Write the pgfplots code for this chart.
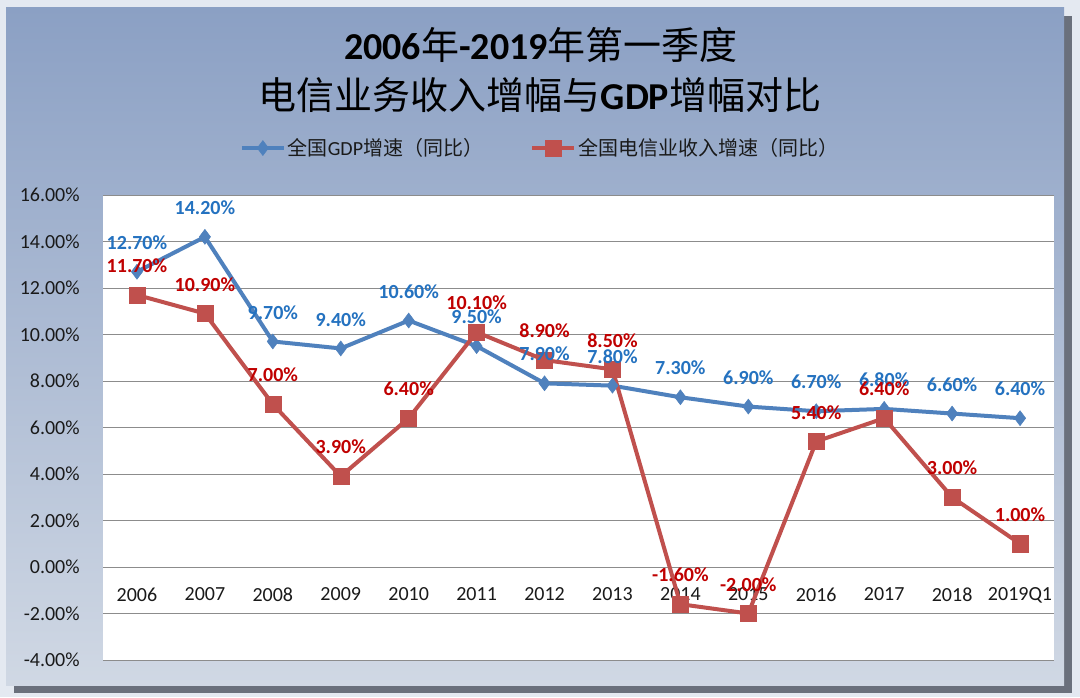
\documentclass[border=0pt]{standalone}
\usepackage{pgfplots}
\pgfplotsset{compat=1.18}
\usepackage{pgfplotstable}
\usepackage{fontspec}
\setmainfont{Carlito}
\newfontfamily\cjk{Noto Sans CJK SC}
\definecolor{gdpline}{HTML}{4F81BD}
\definecolor{telline}{HTML}{C0504D}
\definecolor{gdplab}{HTML}{2472C0}
\definecolor{tellab}{HTML}{C00000}
\definecolor{gridc}{HTML}{8C8C8C}
\definecolor{bgtop}{HTML}{8BA0C4}
\definecolor{bgbot}{HTML}{D0D8E4}
\definecolor{bgouter}{HTML}{E4E9F1}
\definecolor{shadowc}{HTML}{6A707C}
\definecolor{txt}{HTML}{1A1A1A}

\pgfplotstableread{
x gdp tel
0 12.7 11.7
1 14.2 10.9
2 9.7 7.0
3 9.4 3.9
4 10.6 6.4
5 9.5 10.1
6 7.9 8.9
7 7.8 8.5
8 7.3 -1.6
9 6.9 -2.0
10 6.7 5.4
11 6.8 6.4
12 6.6 3.0
13 6.4 1.0
}\datatable

\begin{document}
\begin{tikzpicture}[x=1pt,y=1pt]
\path[use as bounding box] (0,0) rectangle (1080,697);
\fill[bgouter] (0,0) rectangle (1080,697);
\fill[shadowc] (14,4) rectangle (1072,681);
\shade[top color=bgtop, bottom color=bgbot] (6,12) rectangle (1064,689);
\node[font=\fontsize{38}{40}\selectfont\bfseries, text=black] at (541,652)
  {2006{\cjk\mdseries 年}-2019{\cjk\mdseries 年第一季度}};
\node[font=\fontsize{38}{40}\selectfont\bfseries, text=black] at (540,602)
  {{\cjk\mdseries 电信业务收入增幅与}GDP{\cjk\mdseries 增幅对比}};
\begin{axis}[
  at={(103pt,37pt)}, anchor=south west,
  scale only axis, width=951pt, height=465pt,
  xmin=-0.5, xmax=13.5, ymin=-4, ymax=16,
  clip=false,
  axis background/.style={fill=white},
  axis x line=middle, axis y line=left,
  axis line style={-},
  x axis line style={draw=gridc, line width=0.8pt},
  y axis line style={draw=none},
  xtick={0,...,13},
  xticklabels={2006,2007,2008,2009,2010,2011,2012,2013,2014,2015,2016,2017,2018,2019Q1},
  x tick style={draw=none},
  extra x ticks={-0.5,0.5,...,13.5},
  extra x tick labels={},
  extra x tick style={tick align=outside, major tick length=7pt, tick style={draw=gridc, line width=0.8pt}},
  xticklabel style={font=\fontsize{20}{24}\selectfont, text=txt, yshift=-15pt},
  ytick={-4,-2,...,16},
  yticklabels={-4.00\%,-2.00\%,0.00\%,2.00\%,4.00\%,6.00\%,8.00\%,10.00\%,12.00\%,14.00\%,16.00\%},
  y tick style={draw=none},
  yticklabel style={font=\fontsize{20}{24}\selectfont, text=txt, anchor=east, inner sep=0pt, xshift=-21pt},
  ymajorgrids, grid style={draw=gridc, line width=0.8pt},
  /pgf/number format/.cd, fixed, fixed zerofill, precision=2, assume math mode=true, /pgfplots/.cd,
  legend style={at={(0.4595,1.101)}, anchor=center, draw=none, fill=none,
    font=\fontsize{20}{24}\selectfont, text=txt,
    /tikz/every even column/.append style={column sep=45pt}},
  legend columns=2,
  legend image code/.code={\draw[mark repeat=2, mark phase=2] plot coordinates {(0pt,0pt) (21pt,0pt) (42pt,0pt)};},
]
\addplot[gdpline, line width=4pt, mark=diamond*, mark size=7.5pt, mark options={solid, line width=0.5pt}]
  table[x=x, y=gdp] {\datatable};
\addlegendentry{{\cjk 全国}GDP{\cjk 增速（同比）}}
\addplot[telline, line width=4pt, mark=square*, mark size=8pt, mark options={solid, line width=0.5pt}]
  table[x=x, y=tel] {\datatable};
\addlegendentry{{\cjk 全国电信业收入增速（同比）}}
\addplot[draw=none, forget plot, point meta=y,
  nodes near coords={\pgfmathprintnumber{\pgfplotspointmeta}\%},
  every node near coord/.append style={font=\fontsize{20}{24}\selectfont\bfseries, text=gdplab, anchor=south, inner sep=0pt, yshift=22pt}]
  table[x=x, y=gdp] {\datatable};
\addplot[draw=none, forget plot, point meta=y,
  nodes near coords={\pgfmathprintnumber{\pgfplotspointmeta}\%},
  every node near coord/.append style={font=\fontsize{20}{24}\selectfont\bfseries, text=tellab, anchor=south, inner sep=0pt, yshift=22pt}]
  table[x=x, y=tel] {\datatable};
\end{axis}
\end{tikzpicture}
\end{document}
